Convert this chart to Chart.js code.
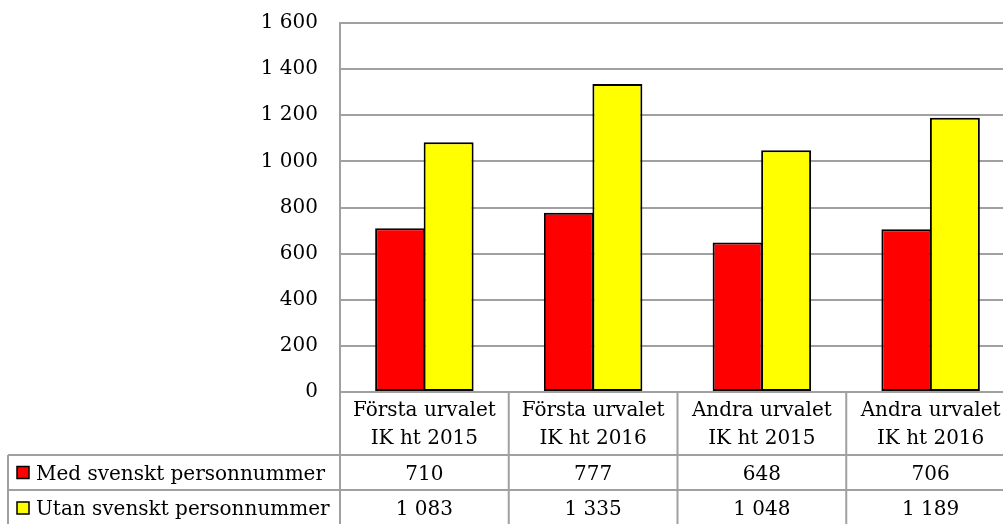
<!DOCTYPE html>
<html>
<head>
<meta charset="utf-8">
<script src="https://cdn.jsdelivr.net/npm/chart.js@4/dist/chart.umd.min.js"></script>
<style>
    html, body { margin: 0; padding: 0; overflow: hidden; background: #fff; }
    #wrap { position: absolute; left: 0; top: 0; width: 1003px; height: 524px; overflow: hidden; }
</style>
</head>
<body>
<div id="wrap"><canvas id="bar" width="1020" height="530"></canvas></div>
<script>
// kategorier och serier
var categoryLine1 = ['Första urvalet', 'Första urvalet', 'Andra urvalet', 'Andra urvalet'];
var categoryLine2 = ['IK ht 2015', 'IK ht 2016', 'IK ht 2015', 'IK ht 2016'];
var seriesNames = ['Med svenskt personnummer', 'Utan svenskt personnummer'];
var medValues = [710, 777, 648, 706];
var utanValues = [1083, 1335, 1048, 1189];
var yTicks = [0, 200, 400, 600, 800, 1000, 1200, 1400, 1600];

var FONT = '"DejaVu Serif", serif';
var FONT_SIZE = 20;
var LINE_COLOR = '#a0a0a0';
var colors = ['#ff0000', '#ffff00'];

function fmt(v) {
    return String(v).replace(/\B(?=(\d{3})+(?!\d))/g, ' ');
}

// datatabell under diagrammet
var tablePlugin = {
    id: 'dataTable',
    afterDraw: function(chart) {
        var ctx = chart.ctx;
        var area = chart.chartArea;
        var x = chart.scales.x;
        var n = categoryLine1.length;
        var colW = (area.right - area.left) / n;
        var top = area.bottom;
        var row1 = top + 63, row2 = row1 + 35, row3 = row2 + 36;
        var tableLeft = 8;

        ctx.save();
        ctx.strokeStyle = LINE_COLOR;
        ctx.lineWidth = 2;
        ctx.beginPath();
        [row1, row2, row3].forEach(function(y) {
            ctx.moveTo(tableLeft, y);
            ctx.lineTo(area.right + 2, y);
        });
        for (var i = 0; i <= n; i++) {
            var cx = area.left + i * colW;
            ctx.moveTo(cx, top);
            ctx.lineTo(cx, row3);
        }
        ctx.moveTo(tableLeft, row1);
        ctx.lineTo(tableLeft, row3);
        ctx.stroke();

        ctx.fillStyle = '#000';
        ctx.font = FONT_SIZE + 'px ' + FONT;
        ctx.textAlign = 'center';
        ctx.textBaseline = 'middle';
        for (var j = 0; j < n; j++) {
            var mid = x.getPixelForValue(j);
            ctx.fillText(categoryLine1[j], mid, top + 19);
            ctx.fillText(categoryLine2[j], mid, top + 47);
            ctx.fillText(fmt(medValues[j]), mid, (row1 + row2) / 2 + 2);
            ctx.fillText(fmt(utanValues[j]), mid, (row2 + row3) / 2 + 2);
        }

        // förklaringar
        var rows = [[row1, row2], [row2, row3]];
        ctx.textAlign = 'left';
        for (var k = 0; k < seriesNames.length; k++) {
            var cy = (rows[k][0] + rows[k][1]) / 2;
            ctx.fillStyle = colors[k];
            ctx.fillRect(17, cy - 6, 12, 12);
            ctx.strokeStyle = '#000';
            ctx.lineWidth = 1.5;
            ctx.strokeRect(17, cy - 6, 12, 12);
            ctx.fillStyle = '#000';
            ctx.fillText(seriesNames[k], 36, cy + 2);
        }
        ctx.restore();
    }
};

var ctx = document.getElementById('bar').getContext('2d');
var myChart = new Chart(ctx, {
    type: 'bar',
    data: {
        labels: categoryLine1.map(function(l, i) { return l + ' ' + categoryLine2[i]; }),
        datasets: [{
                label: seriesNames[0],
                data: medValues,
                backgroundColor: colors[0],
                borderColor: '#000',
                borderWidth: 2,
                borderSkipped: false
            },
            {
                label: seriesNames[1],
                data: utanValues,
                backgroundColor: colors[1],
                borderColor: '#000',
                borderWidth: 2,
                borderSkipped: false
            }
        ]
    },
    options: {
        responsive: false,
        animation: false,
        devicePixelRatio: 1,
        layout: {
            padding: { left: 0, top: 23, right: 5, bottom: 138 }
        },
        datasets: {
            bar: {
                categoryPercentage: 0.575,
                barPercentage: 1.03
            }
        },
        scales: {
            x: {
                display: false
            },
            y: {
                min: 0,
                max: 1600,
                afterBuildTicks: function(scale) {
                    scale.ticks = yTicks.map(function(v) { return { value: v }; });
                },
                afterFit: function(scale) {
                    scale.width = 340;
                },
                grid: {
                    color: LINE_COLOR,
                    lineWidth: 2,
                    drawTicks: true,
                    tickLength: 20,
                    tickColor: 'rgba(0,0,0,0)'
                },
                border: {
                    color: LINE_COLOR,
                    width: 2
                },
                ticks: {
                    padding: 2,
                    color: '#000',
                    font: { family: FONT, size: FONT_SIZE },
                    callback: function(value) {
                        return fmt(value);
                    }
                }
            }
        },
        plugins: {
            legend: { display: false },
            tooltip: { enabled: false }
        }
    },
    plugins: [tablePlugin]
});
</script>
</body>
</html>
